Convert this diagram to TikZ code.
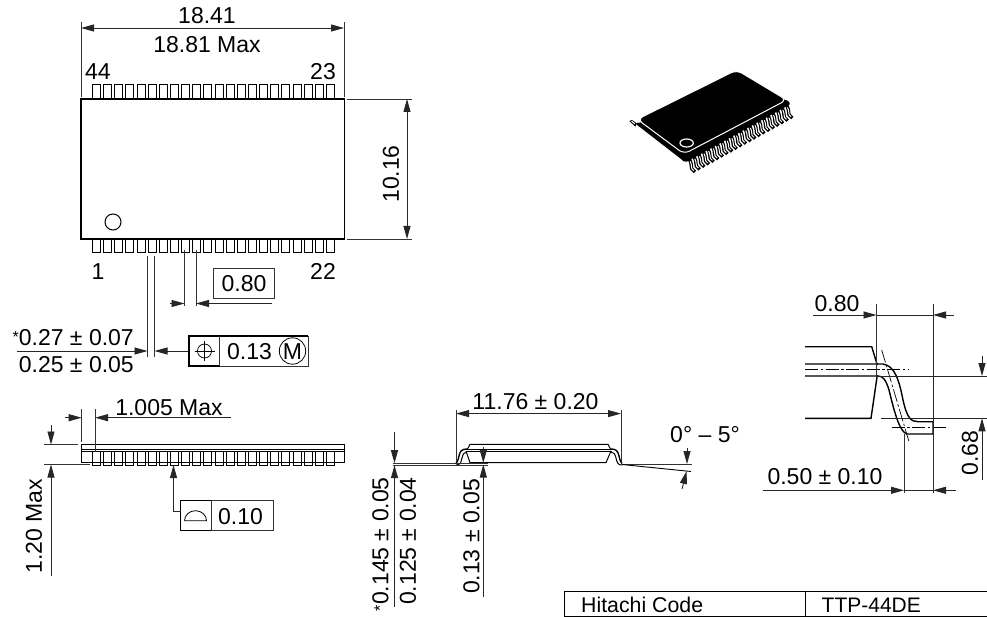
\documentclass[tikz,border=0pt]{standalone}
\usepackage{fontspec}
\setmainfont{Liberation Sans}
\usetikzlibrary{arrows.meta}
\tikzset{
  txt/.style={inner sep=0pt,font=\fontsize{23}{23}\selectfont},
  dim/.style={line width=0.9pt,black!85},
  ext/.style={line width=0.9pt,black!80},
  arr/.style={dim,-{Triangle[length=13pt,width=7pt]}},
  obj/.style={line width=1.4pt,black},
  thin obj/.style={line width=1pt,black},
  fine obj/.style={line width=0.65pt,black},
  cline/.style={line width=0.7pt,black,dash pattern=on 13pt off 2.5pt on 2.5pt off 2.5pt},
  frame/.style={line width=0.9pt,black!80}
}
\newcommand{\stx}{{\fontsize{16}{16}\selectfont\raisebox{3pt}{*}}}
\begin{document}
\begin{tikzpicture}[x=1pt,y=-1pt]
\useasboundingbox (0,0) rectangle (987,617);
% ---------- top view
\foreach \i in {0,...,21}{
  \pgfmathsetmacro{\xa}{round(92+11.14*\i)+0.5}
  \pgfmathsetmacro{\xb}{\xa+8}
  \draw[thin obj] (\xa,99) -- (\xa,84.5) -- (\xb,84.5) -- (\xb,99);
  \draw[thin obj] (\xa,239) -- (\xa,253) -- (\xb,253) -- (\xb,239);
}
\draw[obj,fill=white] (81,99) rectangle (344.5,239);
\draw[thin obj] (113,222) circle (8);
\draw[ext] (81,22) -- (81,97);
\draw[ext] (344,22) -- (344,97);
\draw[arr] (207,28) -- (81,28);
\draw[arr] (207,28) -- (344,28);
\node[txt] (t1) at (207,16) {18.41};
\node[txt] (t2) at (207,44.5) {18.81 Max};
\node[txt] (t44) at (98,72) {44};
\node[txt] (t23) at (323,72) {23};
\node[txt] (t1b) at (98,271.5) {1};
\node[txt] (t22) at (323,271.5) {22};
\draw[ext] (347,99) -- (412,99);
\draw[ext] (347,239) -- (412,239);
\draw[arr] (407,170) -- (407,99);
\draw[arr] (407,170) -- (407,239);
\node[txt,rotate=90] (t1016) at (391,174) {10.16};
% pitch
\draw[frame] (213.5,268) rectangle (274.5,298.5);
\node[txt] (t080) at (244,284) {0.80};
\draw[ext] (184.5,250) -- (184.5,306);
\draw[ext] (196,250) -- (196,306);
\draw[arr] (170,303.5) -- (184.5,303.5);
\draw[arr] (272,303.5) -- (196,303.5);
% lead width
\draw[ext] (147.5,256) -- (147.5,357);
\draw[ext] (154.5,256) -- (154.5,357);
\draw[arr] (17,351) -- (147.5,351);
\draw[arr] (189,351) -- (154.5,351);
\node[txt,anchor=east] (t027) at (134,338) {\stx 0.27 ± 0.07};
\node[txt,anchor=east] (t025) at (134,365) {0.25 ± 0.05};
\draw[frame] (189,336) rectangle (308,366);
\draw[line width=1.25pt] (308,336) -- (189,336) -- (189,366) -- (219.5,366);
\draw[frame] (219.5,336) -- (219.5,366);
\draw[line width=0.7pt] (204.5,351) circle (7);
\draw[line width=0.7pt] (194.5,351) -- (214.5,351) (204.5,341) -- (204.5,361);
\node[txt] (t013) at (249.5,352) {0.13};
\draw[line width=0.8pt] (292.5,351) circle (13.2);
\node[txt] (tM) at (292.5,352) {M};
% ---------- side view
\draw[thin obj] (81,444) rectangle (344.5,462.5);
\draw[fine obj] (81,449) -- (344.5,449);
\draw[fine obj] (81,451) -- (344.5,451);
\foreach \i in {0,...,21}{
  \pgfmathsetmacro{\xa}{round(92+11.14*\i)+0.5}
  \pgfmathsetmacro{\xb}{\xa+8}
  \draw[thin obj,fill=white] (\xa,451) rectangle (\xb,465);
  \draw[line width=0.6pt] (\xa,462) -- (\xb,462);
}
\draw[ext] (81.7,409) -- (81.7,442);
\draw[ext] (95,409) -- (95,452);
\draw[arr] (65,417.7) -- (81.7,417.7);
\draw[arr] (231,417.7) -- (95,417.7);
\node[txt] (t1005) at (169,408) {1.005 Max};
\draw[ext] (44,444.5) -- (78,444.5);
\draw[ext] (44,464.5) -- (90,464.5);
\draw[arr] (51,425) -- (51,444.5);
\draw[arr] (51,576) -- (51,464.5);
\node[txt,rotate=90] (t120) at (34,526) {1.20 Max};
\draw[frame] (180.5,500.7) rectangle (273,530.7);
\draw[line width=1.25pt] (211,500.7) -- (180.5,500.7) -- (180.5,530.7) -- (211,530.7);
\draw[frame] (211,500.7) -- (211,530.7);
\draw[line width=0.8pt] (184.5,520.7) -- (206.5,520.7) arc[start angle=0,end angle=-180,x radius=11,y radius=10];
\node[txt] (t010) at (240.5,517) {0.10};
\draw[arr] (180.5,511) -- (173.5,511) -- (173.5,465);
% ---------- front view
\draw[thin obj] (467,450) -- (470,444.3) -- (608,444.3) -- (611,450);
\draw[fine obj] (466,449) -- (612,449);
\draw[fine obj] (466,451) -- (612,451);
\draw[thin obj] (466,451) -- (470,462.7) -- (606,462.7) -- (611,451);
\draw[obj] (467,449) .. controls (462,449) and (460,451) .. (459,456) .. controls (458,461) and (457,462) .. (456,463.5);
\draw[thin obj] (467,452) .. controls (464,452) and (463,454) .. (462,458) .. controls (461,463) and (460,465) .. (456,465);
\draw[obj] (611,449) .. controls (616,449) and (618,451) .. (619,456) .. controls (620,461) and (621,462) .. (622,463.5);
\draw[thin obj] (611,452) .. controls (614,452) and (615,454) .. (616,458) .. controls (617,463) and (618,465) .. (622,465);
\draw[ext] (393,463.2) -- (488,463.2);
\draw[ext] (393,465.2) -- (488,465.2);
\draw[ext] (622,464.3) -- (692,464.3);
\draw[line width=0.9pt] (622,464.5) -- (691,471.5);
\draw[ext] (456,410) -- (456,462);
\draw[ext] (621,410) -- (621,462);
\draw[arr] (535,413.6) -- (456,413.6);
\draw[arr] (535,413.6) -- (621,413.6);
\node[txt] (t1176) at (535.5,401.5) {11.76 ± 0.20};
\node[txt] (tang) at (705,435) {0° – 5°};
\draw[arr] (687,448) -- (687,464);
\draw[arr] (682,489) -- (686.6,471);
\draw[arr] (394.5,431.7) -- (394.5,463.2);
\draw[arr] (394.5,607) -- (394.5,465.2);
\node[txt,rotate=90,anchor=east] (t0145) at (380.5,477) {\stx 0.145 ± 0.05};
\node[txt,rotate=90,anchor=east] (t0125) at (408,477) {0.125 ± 0.04};
\draw[arr] (483.3,447) -- (483.3,463);
\draw[arr] (483.3,596.5) -- (483.3,464.5);
\node[txt,rotate=90] (t013b) at (471.5,536.5) {0.13 ± 0.05};
% ---------- table
\draw[thin obj] (987,616.2) -- (564,616.2) -- (564,591.7) -- (987,591.7);
\draw[thin obj] (805,591.7) -- (805,616.2);
\node[txt,anchor=base west,font=\fontsize{21.3}{21.3}\selectfont] (hc) at (581,612) {Hitachi Code};
\node[txt,anchor=base west,font=\fontsize{21}{21}\selectfont] (tp) at (821.5,612) {TTP-44DE};
% ---------- detail
\draw[obj] (805,346.7) -- (871.7,346.7) -- (877.3,365);
\draw[obj] (805,418.3) -- (871,418.3) -- (877.3,375);
\draw[obj] (805,364) -- (883,364) .. controls (895,366) and (899,380) .. (903,400) .. controls (907,418) and (911,421.7) .. (918,421.7) -- (933,421.7) -- (933,434) -- (907,434) .. controls (900,432) and (895,415) .. (889,390) .. controls (886,380) and (883,376) .. (878,376) -- (805,376);
\draw[cline] (805,369.3) -- (908,369.3);
\draw[cline] (881.7,350) -- (909,441.7);
\draw[cline] (891.7,427.3) -- (946.7,427.3);
\draw[ext] (876.5,304) -- (876.5,376);
\draw[dim] (933,304) -- (933,440);
\draw[arr] (813,315) -- (876.5,315);
\draw[dim] (876.5,315) -- (933,315);
\draw[arr] (954,315) -- (933,315);
\node[txt] (t080b) at (837,304) {0.80};
\draw[ext] (904,434) -- (904,493);
\draw[ext] (933,437) -- (933,493);
\draw[arr] (763,490.3) -- (904,490.3);
\draw[dim] (904,490.3) -- (933,490.3);
\draw[arr] (956,490.3) -- (933,490.3);
\node[txt] (t050) at (825,477) {0.50 ± 0.10};
\draw[dim] (877,376) -- (987,376);
\draw[dim] (881,418.3) -- (987,418.3);
\draw[arr] (982,356) -- (982,376);
\draw[arr] (982,480) -- (982,418.3);
\node[txt,rotate=90] (t068) at (970,453) {0.68};
% ---------- 3D chip
\begin{scope}[shift={(620,60)},x=0.3333pt,y=-0.3333pt]
  % far side pin tab
  \fill[black] (28,183) -- (36,180) -- (50,190) -- (46,200) -- cycle;
  \fill[white] (33,184) -- (37,183) -- (45,190) -- (44,193) -- cycle;
  % near side pins
  \foreach \i in {0,...,21}{
    \pgfmathsetmacro{\px}{208+13.9*\i}
    \pgfmathsetmacro{\py}{296-7.7*\i}
    \draw[black,line width=3.4pt,line join=round] (\px,\py) -- ++(5,14) -- ++(2,16) -- ++(10,10);
    \draw[white,line width=1pt] (\px+2.5,\py+8) -- ++(3,8) -- ++(2,14) -- ++(6,6);
  }
  % body
  \fill[black,rounded corners=2pt] (45,190) -- (187,300) -- (195,308) -- (512,132) -- (500,118) -- cycle;
  \fill[black,rounded corners=6pt,draw=white,line width=1pt] (52,178) -- (350,30) -- (500,120) -- (192,282) -- cycle;
  \fill[black,draw=white,line width=1.2pt] (200,249) ellipse[x radius=20,y radius=12];
\end{scope}
\end{tikzpicture}
\end{document}
